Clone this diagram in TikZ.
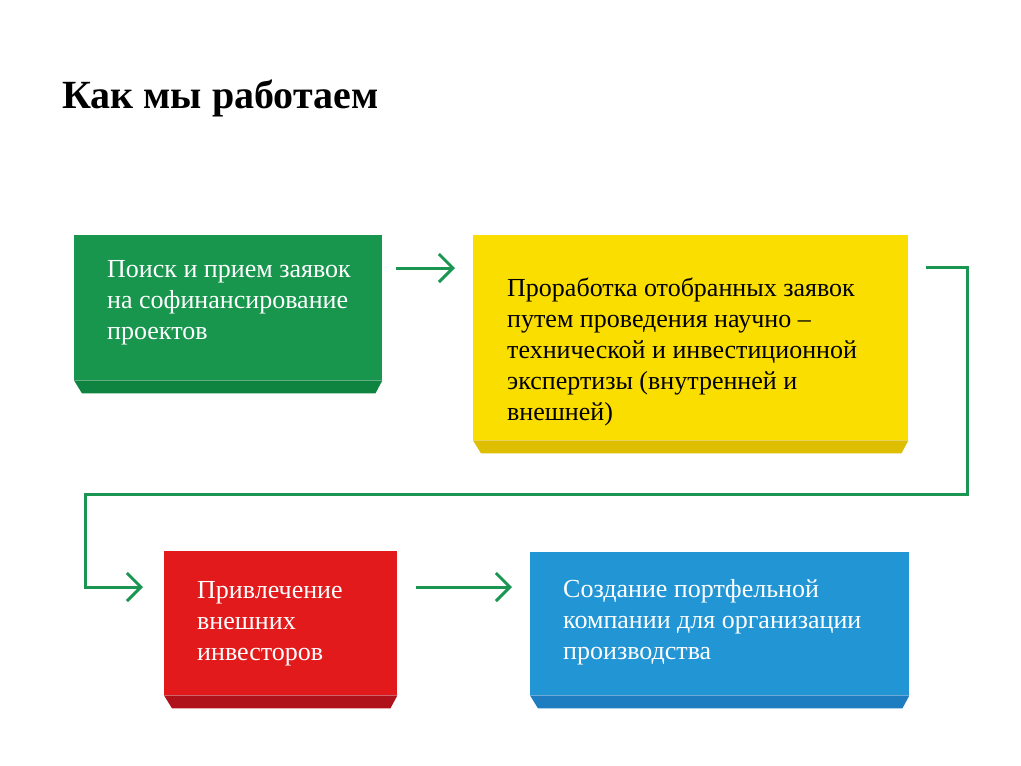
\documentclass[tikz,border=0pt]{standalone}
\usepackage{fontspec}
\setmainfont{Liberation Serif}
\usetikzlibrary{arrows.meta}
\definecolor{cgreen}{RGB}{24,150,78}
\definecolor{cgreenD}{RGB}{14,132,64}
\definecolor{cyellow}{RGB}{250,222,0}
\definecolor{cyellowD}{RGB}{222,190,0}
\definecolor{cred}{RGB}{226,26,28}
\definecolor{credD}{RGB}{176,18,28}
\definecolor{cblue}{RGB}{34,150,212}
\definecolor{cblueD}{RGB}{30,124,192}
\definecolor{cline}{RGB}{26,150,82}
\begin{document}
\begin{tikzpicture}[x=1pt,y=-1pt,
  face/.style={fill=#1, draw=none, inner sep=0pt, anchor=north west},
  txt/.style={anchor=base west, inner sep=0pt, align=left, font=\fontsize{26}{31}\selectfont},
  conn/.style={draw=cline, line width=3pt, -{Straight Barb[length=14pt,width=28pt]}}
]
\useasboundingbox (0,0) rectangle (1021,766);
\fill[white] (0,0) rectangle (1021,766);

\node[anchor=base west, inner sep=0pt, font=\fontsize{40}{44}\selectfont\bfseries] (title) at (62,108) {Как мы работаем};

% boxes
\node[face=cgreen, minimum width=308pt, minimum height=145pt] (b1) at (74,235) {};
\node[face=cyellow, minimum width=435pt, minimum height=205pt] (b2) at (473,235) {};
\node[face=cred, minimum width=233pt, minimum height=144pt] (b3) at (164,551) {};
\node[face=cblue, minimum width=379pt, minimum height=143pt] (b4) at (530,552) {};

% bevels
\fill[cgreenD] (b1.south west) -- (b1.south east) -- ([xshift=-7pt,yshift=-13pt]b1.south east) -- ([xshift=8pt,yshift=-13pt]b1.south west) -- cycle;
\fill[cyellowD] (b2.south west) -- (b2.south east) -- ([xshift=-7pt,yshift=-13pt]b2.south east) -- ([xshift=8pt,yshift=-13pt]b2.south west) -- cycle;
\fill[credD] (b3.south west) -- (b3.south east) -- ([xshift=-7pt,yshift=-13pt]b3.south east) -- ([xshift=8pt,yshift=-13pt]b3.south west) -- cycle;
\fill[cblueD] (b4.south west) -- (b4.south east) -- ([xshift=-7pt,yshift=-13pt]b4.south east) -- ([xshift=8pt,yshift=-13pt]b4.south west) -- cycle;

% texts (base anchor = baseline of the last line)
\node[txt, text=white] (t1) at (107,339) {Поиск и прием заявок\\на софинансирование\\проектов};
\node[txt, text=black] (t2) at (507,420) {Проработка отобранных заявок\\путем проведения научно –\\технической и инвестиционной\\экспертизы (внутренней и\\внешней)};
\node[txt, text=white] (t3) at (197,660) {Привлечение\\внешних\\инвесторов};
\node[txt, text=white] (t4) at (563,659) {Создание портфельной\\компании для организации\\производства};

% connectors
\coordinate (a1s) at (396,268);
\coordinate (a1e) at (455,268);
\draw[conn] (a1s) -- (a1e);

\coordinate (ls) at (926,267);
\coordinate (k1) at (967,494);
\coordinate (k2) at (85,494);
\coordinate (a2e) at (143,587);
\draw[conn] (ls) -| (k1) -- (k2) |- (a2e);

\coordinate (a3s) at (416,587);
\coordinate (a3e) at (512,587);
\draw[conn] (a3s) -- (a3e);
\end{tikzpicture}
\end{document}
